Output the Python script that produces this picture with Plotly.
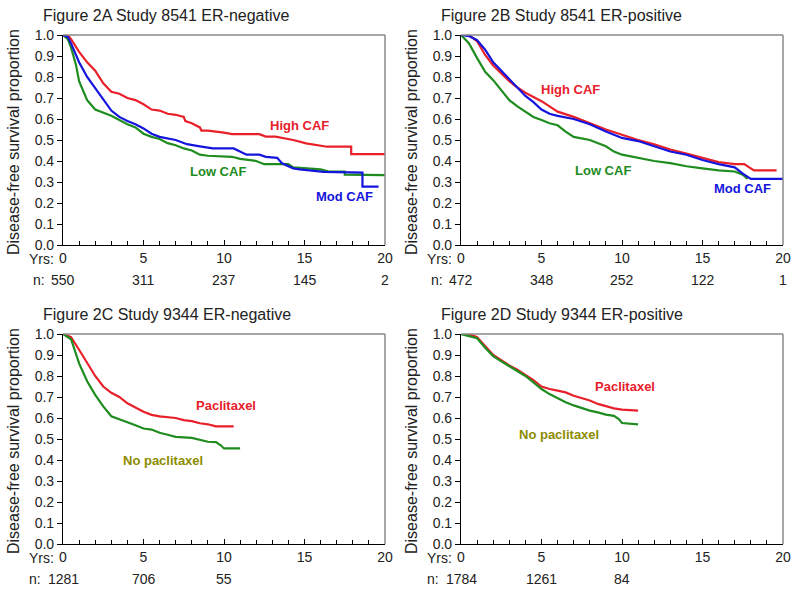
import plotly.graph_objects as go

# ---------------- data ----------------
titles = ["Figure 2A Study 8541 ER-negative", "Figure 2B Study 8541 ER-positive",
          "Figure 2C Study 9344 ER-negative", "Figure 2D Study 9344 ER-positive"]
year_ticks = [0, 5, 10, 15, 20]
y_ticks = [0.0, 0.1, 0.2, 0.3, 0.4, 0.5, 0.6, 0.7, 0.8, 0.9, 1.0]
n_at_risk_A = ["550", "311", "237", "145", "2"]
n_at_risk_B = ["472", "348", "252", "122", "1"]
n_at_risk_C = ["1281", "706", "55"]
n_at_risk_D = ["1784", "1261", "84"]

# Panel A (8541 ER-negative)
A_high_t = [0, 0.3, 0.5, 1, 1.5, 2, 2.5, 3, 3.5, 4, 4.5, 5, 5.5, 6, 6.5, 7, 7.5, 7.6, 8, 8.5, 8.6, 9, 10, 10.5, 12.2, 12.6, 13.2, 14.3, 15.1, 16.4, 17.9, 17.9, 20]
A_high_s = [1.0, 1.0, 0.98, 0.92, 0.87, 0.83, 0.77, 0.73, 0.72, 0.70, 0.69, 0.67, 0.645, 0.64, 0.625, 0.62, 0.61, 0.59, 0.58, 0.56, 0.545, 0.545, 0.535, 0.528, 0.528, 0.516, 0.516, 0.50, 0.484, 0.468, 0.468, 0.433, 0.433]
A_mod_t = [0, 0.3, 0.5, 1, 1.5, 2, 2.5, 3, 3.5, 4, 4.5, 5, 5.5, 6, 7, 7.7, 8.5, 9.3, 10.6, 11, 11.4, 12.2, 12.6, 13.3, 13.6, 14.3, 14.7, 16.2, 18.6, 18.6, 19.6]
A_mod_s = [1.0, 0.99, 0.96, 0.87, 0.80, 0.745, 0.69, 0.64, 0.61, 0.59, 0.575, 0.555, 0.53, 0.515, 0.50, 0.48, 0.47, 0.46, 0.46, 0.445, 0.43, 0.43, 0.42, 0.415, 0.389, 0.365, 0.36, 0.348, 0.345, 0.278, 0.278]
A_low_t = [0, 0.3, 0.5, 0.8, 1, 1.5, 2, 2.5, 3, 3.5, 4, 4.5, 5, 5.5, 6, 6.5, 7, 7.5, 8, 8.5, 9, 10.5, 11, 12, 12.5, 14, 14.3, 16, 16.5, 17.5, 17.5, 20]
A_low_s = [1.0, 0.98, 0.94, 0.86, 0.78, 0.69, 0.645, 0.63, 0.615, 0.595, 0.575, 0.56, 0.53, 0.515, 0.505, 0.485, 0.475, 0.46, 0.45, 0.43, 0.425, 0.42, 0.41, 0.40, 0.385, 0.385, 0.37, 0.36, 0.35, 0.35, 0.335, 0.333]

# Panel B (8541 ER-positive)
B_high_t = [0, 0.5, 1, 1.5, 2, 2.5, 3, 3.5, 4, 4.5, 5, 5.5, 6, 7, 8, 9, 10, 11, 12, 13, 14, 15, 16, 17, 17.6, 17.9, 18.2, 19.6]
B_high_s = [1.0, 1.0, 0.97, 0.905, 0.855, 0.815, 0.78, 0.75, 0.725, 0.705, 0.685, 0.66, 0.635, 0.61, 0.58, 0.55, 0.525, 0.50, 0.48, 0.455, 0.435, 0.415, 0.395, 0.385, 0.385, 0.37, 0.355, 0.355]
B_mod_t = [0, 0.5, 1, 1.5, 2, 2.5, 3, 3.5, 4, 4.5, 5, 5.5, 6, 7, 8, 9, 10, 11, 12, 13, 14, 15, 16, 17, 17.5, 18, 20]
B_mod_s = [1.0, 0.995, 0.975, 0.93, 0.87, 0.83, 0.785, 0.745, 0.71, 0.68, 0.645, 0.625, 0.615, 0.60, 0.575, 0.54, 0.51, 0.495, 0.47, 0.445, 0.43, 0.405, 0.385, 0.37, 0.34, 0.315, 0.315]
B_low_t = [0, 0.5, 1, 1.5, 2, 2.5, 3, 3.5, 4, 4.5, 5, 5.5, 6, 6.5, 7, 8, 9, 9.5, 10, 11, 12, 13, 14, 15, 16, 17, 17.5, 17.8]
B_low_s = [1.0, 0.96, 0.89, 0.825, 0.785, 0.74, 0.69, 0.66, 0.635, 0.61, 0.595, 0.58, 0.57, 0.54, 0.515, 0.50, 0.47, 0.445, 0.43, 0.415, 0.40, 0.39, 0.375, 0.365, 0.355, 0.35, 0.335, 0.315]

# Panel C (9344 ER-negative)
C_pac_t = [0, 0.5, 1, 1.5, 2, 2.5, 3, 3.5, 4, 4.5, 5, 5.5, 6, 7, 7.5, 8, 8.5, 9, 9.5, 10.6]
C_pac_s = [1.0, 0.985, 0.925, 0.86, 0.80, 0.75, 0.72, 0.70, 0.67, 0.65, 0.63, 0.615, 0.608, 0.60, 0.59, 0.585, 0.575, 0.57, 0.56, 0.56]
C_nopac_t = [0, 0.5, 1, 1.5, 2, 2.5, 3, 3.5, 4, 4.5, 5, 5.5, 6, 6.5, 7, 8, 8.5, 9, 9.5, 9.8, 10, 11]
C_nopac_s = [1.0, 0.975, 0.86, 0.775, 0.71, 0.655, 0.608, 0.595, 0.58, 0.565, 0.55, 0.545, 0.53, 0.52, 0.51, 0.505, 0.495, 0.487, 0.485, 0.47, 0.455, 0.455]

# Panel D (9344 ER-positive)
D_pac_t = [0, 0.5, 1, 1.5, 2, 2.5, 3, 3.5, 4, 4.5, 5, 5.5, 6, 6.5, 7, 7.5, 8, 8.5, 9, 9.5, 10, 11]
D_pac_s = [1.0, 1.0, 0.985, 0.94, 0.90, 0.875, 0.85, 0.83, 0.805, 0.78, 0.75, 0.738, 0.73, 0.722, 0.706, 0.694, 0.683, 0.667, 0.655, 0.646, 0.64, 0.635]
D_nopac_t = [0, 0.5, 1, 1.5, 2, 2.5, 3, 3.5, 4, 4.5, 5, 5.5, 6, 6.5, 7, 7.5, 8, 8.5, 9, 9.5, 9.8, 10, 11]
D_nopac_s = [1.0, 0.99, 0.98, 0.935, 0.895, 0.87, 0.846, 0.825, 0.80, 0.77, 0.738, 0.714, 0.694, 0.675, 0.66, 0.646, 0.635, 0.627, 0.616, 0.61, 0.595, 0.576, 0.57]

RED = "#e8202a"
BLUE = "#1414dc"
GREEN = "#1e8c1e"
OLIVE = "#8c8c00"
TXT = "#222222"
FONT = "Arial, Liberation Sans, sans-serif"

panels = [
    dict(title=titles[0], nrisk=n_at_risk_A,
         series=[(A_high_t, A_high_s, RED), (A_low_t, A_low_s, GREEN), (A_mod_t, A_mod_s, BLUE)],
         labels=[("High CAF", 14.7, 0.57, RED), ("Low CAF", 9.6, 0.35, GREEN), ("Mod CAF", 17.5, 0.233, BLUE)]),
    dict(title=titles[1], nrisk=n_at_risk_B,
         series=[(B_low_t, B_low_s, GREEN), (B_high_t, B_high_s, RED), (B_mod_t, B_mod_s, BLUE)],
         labels=[("High CAF", 6.8, 0.74, RED), ("Low CAF", 8.8, 0.354, GREEN), ("Mod CAF", 17.5, 0.27, BLUE)]),
    dict(title=titles[2], nrisk=n_at_risk_C,
         series=[(C_pac_t, C_pac_s, RED), (C_nopac_t, C_nopac_s, GREEN)],
         labels=[("Paclitaxel", 10.1, 0.66, RED), ("No paclitaxel", 6.2, 0.40, OLIVE)]),
    dict(title=titles[3], nrisk=n_at_risk_D,
         series=[(D_pac_t, D_pac_s, RED), (D_nopac_t, D_nopac_s, GREEN)],
         labels=[("Paclitaxel", 10.2, 0.75, RED), ("No paclitaxel", 6.1, 0.52, OLIVE)]),
]

W, H = 800, 596
# plot boxes in window pixels: (left, right, top, bottom)
boxes = [(63, 385, 35, 245), (461, 783, 35, 245), (63, 385, 334, 544), (461, 783, 334, 544)]

fig = go.Figure()
annotations = []
shapes = []
for i, (p, (l, r, t, b)) in enumerate(zip(panels, boxes)):
    k = "" if i == 0 else str(i + 1)
    xa, ya = "x" + k, "y" + k
    for (xs, ys, col) in p["series"]:
        fig.add_trace(go.Scatter(x=xs, y=ys, mode="lines", line=dict(color=col, width=2.2),
                                 xaxis=xa, yaxis=ya, showlegend=False, hoverinfo="skip",
                                 cliponaxis=False))
    dom_x = [l / W, r / W]
    dom_y = [1 - b / H, 1 - t / H]
    fig.layout["xaxis" + k] = dict(
        domain=dom_x, range=[0, 20], anchor=ya, tickvals=year_ticks,
        ticktext=[str(v) for v in year_ticks], ticks="inside", ticklen=5, tickwidth=1,
        tickcolor="black", showline=True, linecolor="black", linewidth=1.2,
        showgrid=False, zeroline=False, tickfont=dict(size=14, color=TXT, family=FONT),
        minor=dict(dtick=1, tick0=0, ticks="inside", ticklen=4, tickcolor="black", showgrid=False),
        automargin=False, fixedrange=True)
    fig.layout["yaxis" + k] = dict(
        domain=dom_y, range=[0, 1], anchor=xa, tickvals=y_ticks,
        ticktext=["%.1f" % v for v in y_ticks], ticks="outside", ticklen=5, tickwidth=1,
        tickcolor="black", showline=True, linecolor="black", linewidth=1.2,
        showgrid=False, zeroline=False, tickfont=dict(size=14, color=TXT, family=FONT),
        automargin=False, fixedrange=True)
    # top/right box lines (gray)
    shapes.append(dict(type="line", xref="paper", yref="paper", x0=dom_x[0], x1=dom_x[1],
                       y0=dom_y[1], y1=dom_y[1], line=dict(color="#8a8a8a", width=1.5)))
    shapes.append(dict(type="line", xref="paper", yref="paper", x0=dom_x[1], x1=dom_x[1],
                       y0=dom_y[0], y1=dom_y[1], line=dict(color="#8a8a8a", width=1.5)))
    # title
    annotations.append(dict(text=p["title"], xref="paper", yref="paper", x=(l - 22) / W,
                            y=1 - (t - 20) / H, xanchor="left", yanchor="middle", showarrow=False,
                            font=dict(size=16, color=TXT, family=FONT)))
    # y-axis title
    annotations.append(dict(text="Disease-free survival proportion", xref="paper", yref="paper",
                            x=(l - 50) / W, y=1 - ((t + b) / 2 + 2) / H, textangle=-90,
                            xanchor="center", yanchor="middle", showarrow=False,
                            font=dict(size=16, color=TXT, family=FONT)))
    # "Yrs:" prefix
    annotations.append(dict(text="Yrs:", xref=xa, yref=ya, x=0, y=0, yshift=-14, xshift=-7,
                            xanchor="right", yanchor="middle", showarrow=False,
                            font=dict(size=14, color=TXT, family=FONT)))
    # numbers at risk
    for j, nv in enumerate(p["nrisk"]):
        annotations.append(dict(text=nv, xref=xa, yref=ya, x=year_ticks[j], y=0, yshift=-35,
                                xanchor="center", yanchor="middle", showarrow=False,
                                font=dict(size=14, color=TXT, family=FONT)))
    annotations.append(dict(text="n:", xref=xa, yref=ya, x=0, y=0, yshift=-35,
                            xshift=-(len(p["nrisk"][0]) * 7.8 / 2 + 4),
                            xanchor="right", yanchor="middle", showarrow=False,
                            font=dict(size=14, color=TXT, family=FONT)))
    # curve labels
    for (txt, lx, ly, col) in p["labels"]:
        annotations.append(dict(text="<b>%s</b>" % txt, xref=xa, yref=ya, x=lx, y=ly,
                                xanchor="center", yanchor="middle", showarrow=False,
                                font=dict(size=13, color=col, family=FONT)))

fig.update_layout(width=W, height=H, margin=dict(l=0, r=0, t=0, b=0),
                  paper_bgcolor="white", plot_bgcolor="white",
                  annotations=annotations, shapes=shapes)
fig.write_html("out.html", config={"displayModeBar": False},
               post_script="document.body.style.margin='0px';")
